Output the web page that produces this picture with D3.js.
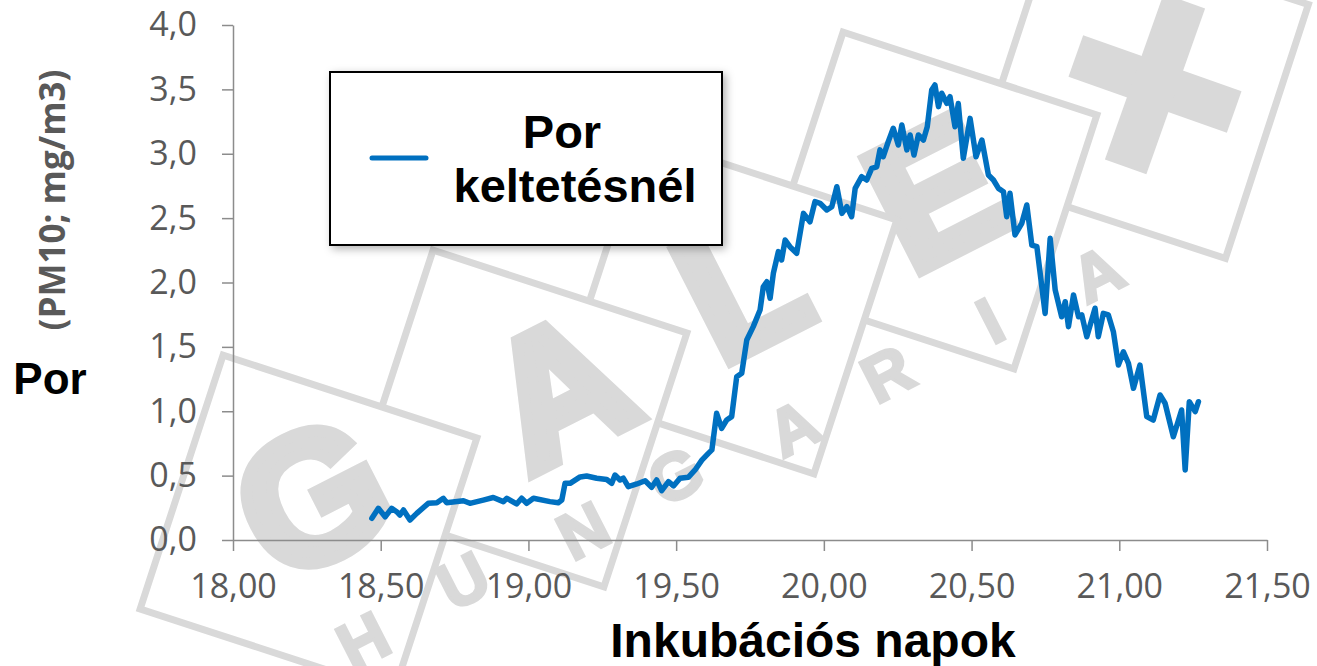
<!DOCTYPE html>
<html>
<head>
<meta charset="utf-8">
<script src="https://cdn.jsdelivr.net/npm/d3@7"></script>
<style>
  body { margin: 0; background: #fff; }
  svg { display: block; }
</style>
</head>
<body>
<div id="wrapper"></div>
<script>
// incubation day (x) and dust PM10 mg/m3 (y)
const days = [18.470, 18.492, 18.515, 18.537, 18.554, 18.565, 18.577, 18.599, 18.622, 18.661,
  18.690, 18.712, 18.723, 18.780, 18.802, 18.847, 18.881, 18.915, 18.927, 18.960,
  18.977, 18.994, 19.017, 19.073, 19.101, 19.113, 19.124, 19.141, 19.175, 19.197,
  19.231, 19.265, 19.282, 19.293, 19.310, 19.321, 19.338, 19.367, 19.395, 19.417,
  19.434, 19.451, 19.474, 19.491, 19.513, 19.541, 19.564, 19.587, 19.609, 19.621,
  19.637, 19.654, 19.671, 19.688, 19.705, 19.722, 19.739, 19.761, 19.784, 19.795,
  19.807, 19.818, 19.829, 19.846, 19.857, 19.869, 19.885, 19.908, 19.931, 19.953,
  19.970, 19.987, 20.010, 20.027, 20.044, 20.061, 20.078, 20.094, 20.106, 20.128,
  20.145, 20.162, 20.179, 20.190, 20.201, 20.218, 20.235, 20.252, 20.264, 20.281,
  20.292, 20.305, 20.320, 20.337, 20.350, 20.365, 20.376, 20.388, 20.399, 20.416,
  20.427, 20.444, 20.455, 20.472, 20.495, 20.515, 20.535, 20.557, 20.574, 20.591,
  20.608, 20.619, 20.630, 20.647, 20.670, 20.687, 20.704, 20.721, 20.749, 20.766,
  20.783, 20.805, 20.817, 20.828, 20.845, 20.862, 20.873, 20.890, 20.918, 20.929,
  20.946, 20.963, 20.980, 20.997, 21.014, 21.031, 21.048, 21.070, 21.093, 21.115,
  21.138, 21.155, 21.183, 21.211, 21.223, 21.237, 21.257, 21.268]
const dust = [0.169, 0.246, 0.180, 0.246, 0.220, 0.194, 0.233, 0.155, 0.207, 0.285,
  0.290, 0.324, 0.290, 0.305, 0.285, 0.310, 0.330, 0.298, 0.324, 0.280,
  0.324, 0.285, 0.324, 0.298, 0.290, 0.310, 0.440, 0.440, 0.490, 0.497,
  0.480, 0.470, 0.440, 0.505, 0.466, 0.480, 0.414, 0.435, 0.460, 0.410,
  0.466, 0.383, 0.453, 0.420, 0.480, 0.487, 0.544, 0.620, 0.673, 0.700,
  0.984, 0.867, 0.932, 0.958, 1.268, 1.295, 1.553, 1.657, 1.786, 1.967,
  2.006, 1.877, 2.070, 2.240, 2.175, 2.330, 2.278, 2.227, 2.537, 2.472,
  2.628, 2.615, 2.563, 2.589, 2.744, 2.537, 2.589, 2.511, 2.731, 2.822,
  2.796, 2.887, 2.899, 3.030, 2.977, 3.094, 3.198, 3.068, 3.223, 3.030,
  3.146, 2.990, 3.146, 3.107, 3.210, 3.495, 3.534, 3.366, 3.470, 3.392,
  3.443, 3.210, 3.390, 2.965, 3.275, 2.977, 3.107, 2.835, 2.796, 2.731,
  2.705, 2.511, 2.693, 2.369, 2.460, 2.602, 2.291, 2.278, 1.760, 2.343,
  1.942, 1.734, 1.851, 1.657, 1.903, 1.734, 1.748, 1.579, 1.800, 1.579,
  1.760, 1.748, 1.618, 1.359, 1.462, 1.372, 1.178, 1.359, 0.958, 0.932,
  1.126, 1.062, 0.802, 1.010, 0.544, 1.074, 0.997, 1.074]

const xTicks = [18, 18.5, 19, 19.5, 20, 20.5, 21, 21.5]
const yTicks = [0, 0.5, 1, 1.5, 2, 2.5, 3, 3.5, 4]
const seriesName = ["Por", "keltetésnél"]

const width = 1317, height = 666
const plot = { left: 233, right: 1267, top: 25, bottom: 540 }

const svg = d3.select("#wrapper").append("svg")
  .attr("width", width)
  .attr("height", height)

svg.append("rect").attr("width", width).attr("height", height).attr("fill", "#fff")

// ---- watermark (GALEX HUNGARIA logo behind the chart) ----
const wmColor = "#d9d9d9"
const wm = svg.append("g")
const tiles = [
  { cx: 1140, cy: 90, ch: "+", lx: 1155, ly: 84 },
  { cx: 928.5, cy: 200.5, ch: "E", lx: 935, ly: 190 },
  { cx: 728.5, cy: 305.5, ch: "L", lx: 740, ly: 283 },
  { cx: 518.5, cy: 418.5, ch: "A", lx: 558, ly: 387 },
  { cx: 308.5, cy: 523.5, ch: "G", lx: 311, ly: 495 }
]
const side = 267
tiles.forEach(t => {
  wm.append("rect")
    .attr("x", -side / 2).attr("y", -side / 2)
    .attr("width", side).attr("height", side)
    .attr("transform", `translate(${t.cx},${t.cy}) rotate(18.1)`)
    .attr("fill", "#fff")
    .attr("stroke", wmColor)
    .attr("stroke-width", 7)
  if (t.ch == "+") {
    // the X of the logo is drawn as a tilted cross
    const cross = wm.append("g").attr("transform", `translate(${t.lx},${t.ly}) rotate(19.5)`)
    cross.append("rect").attr("x", -84).attr("y", -22).attr("width", 168).attr("height", 44).attr("fill", wmColor)
    cross.append("rect").attr("x", -22).attr("y", -88).attr("width", 44).attr("height", 176).attr("fill", wmColor)
  } else {
    wm.append("text")
      .attr("transform", `translate(${t.lx},${t.ly}) rotate(-27)`)
      .attr("text-anchor", "middle")
      .attr("dy", "0.36em")
      .attr("font-family", "Liberation Sans, Arial, sans-serif")
      .attr("font-weight", "bold")
      .attr("font-size", 182)
      .attr("fill", wmColor)
      .attr("stroke", wmColor)
      .attr("stroke-width", 12)
      .text(t.ch)
  }
})
const small = [
  ["H", 363, 640], ["U", 463, 580], ["N", 583, 530], ["G", 675, 475],
  ["A", 793, 427], ["R", 887, 373], ["I", 990, 320], ["A", 1097, 273]
]
small.forEach(s => {
  wm.append("text")
    .attr("transform", `translate(${s[1]},${s[2]}) rotate(-27)`)
    .attr("text-anchor", "middle")
    .attr("dy", "0.36em")
    .attr("font-family", "Liberation Sans, Arial, sans-serif")
    .attr("font-weight", "bold")
    .attr("font-size", 66)
    .attr("fill", wmColor)
    .attr("stroke", wmColor)
    .attr("stroke-width", 3)
    .text(s[0])
})

// ---- scales and axes ----
const xScale = d3.scaleLinear().domain([18, 21.5]).range([plot.left, plot.right])
const yScale = d3.scaleLinear().domain([0, 4]).range([plot.bottom, plot.top])

const fmt1 = d => d3.format(".1f")(d).replace(".", ",")
const fmt2 = d => d3.format(".2f")(d).replace(".", ",")

const axisColor = "#8c8c8c"
const labelColor = "#595959"

const yAxis = svg.append("g")
  .attr("transform", `translate(${plot.left},0)`)
  .call(d3.axisLeft(yScale).tickValues(yTicks).tickFormat(fmt1).tickSize(11).tickSizeOuter(0).tickPadding(25))
yAxis.selectAll("text")
  .attr("font-family", "Open Sans, sans-serif")
  .attr("font-size", 34)
  .attr("fill", labelColor)

const xAxis = svg.append("g")
  .attr("transform", `translate(0,${plot.bottom})`)
  .call(d3.axisBottom(xScale).tickValues(xTicks).tickFormat(fmt2).tickSize(11).tickSizeOuter(0))
xAxis.selectAll("text")
  .attr("y", 58)
  .attr("dy", null)
  .attr("font-family", "Open Sans, sans-serif")
  .attr("font-size", 34)
  .attr("fill", labelColor)

svg.selectAll(".domain, .tick line").attr("stroke", axisColor).attr("stroke-width", 1.5)

// axis titles
svg.append("text")
  .attr("x", 50).attr("y", 394)
  .attr("text-anchor", "middle")
  .attr("font-family", "Liberation Sans, Arial, sans-serif")
  .attr("font-weight", "bold")
  .attr("font-size", 44)
  .attr("fill", "#000")
  .text("Por")

svg.append("text")
  .attr("transform", "translate(65,200) rotate(-90)")
  .attr("text-anchor", "middle")
  .attr("font-family", "Open Sans, sans-serif")
  .attr("font-weight", "bold")
  .attr("font-size", 35)
  .attr("fill", labelColor)
  .text("(PM10; mg/m3)")

svg.append("text")
  .attr("x", 813).attr("y", 657)
  .attr("text-anchor", "middle")
  .attr("font-family", "Liberation Sans, Arial, sans-serif")
  .attr("font-weight", "bold")
  .attr("font-size", 48)
  .attr("fill", "#000")
  .text("Inkubációs napok")

// ---- the series ----
const points = days.map((d, i) => ({ day: d, val: dust[i] }))
const lineGen = d3.line()
  .x(d => xScale(d.day))
  .y(d => yScale(d.val))

svg.append("path")
  .datum(points)
  .attr("d", lineGen)
  .attr("fill", "none")
  .attr("stroke", "#0070c0")
  .attr("stroke-width", 5.5)
  .attr("stroke-linejoin", "round")
  .attr("stroke-linecap", "round")

// ---- legend ----
const defs = svg.append("defs")
defs.append("filter").attr("id", "shadow")
  .attr("x", "-10%").attr("y", "-10%").attr("width", "130%").attr("height", "130%")
  .append("feDropShadow")
  .attr("dx", 3).attr("dy", 3).attr("stdDeviation", 4)
  .attr("flood-color", "#000").attr("flood-opacity", 0.3)

const legend = svg.append("g")
legend.append("rect")
  .attr("x", 330).attr("y", 72)
  .attr("width", 392).attr("height", 173)
  .attr("fill", "#fff")
  .attr("stroke", "#000")
  .attr("stroke-width", 2)
  .attr("filter", "url(#shadow)")
legend.append("line")
  .attr("x1", 372).attr("x2", 426)
  .attr("y1", 158).attr("y2", 158)
  .attr("stroke", "#0070c0")
  .attr("stroke-width", 5)
  .attr("stroke-linecap", "round")
legend.selectAll(".lg")
  .data(seriesName)
  .enter()
  .append("text")
  .attr("x", (d, i) => i == 0 ? 562 : 575)
  .attr("y", (d, i) => i == 0 ? 148 : 202)
  .attr("text-anchor", "middle")
  .attr("font-family", "Liberation Sans, Arial, sans-serif")
  .attr("font-weight", "bold")
  .attr("font-size", 47)
  .attr("fill", "#000")
  .text(d => d)
</script>
</body>
</html>
